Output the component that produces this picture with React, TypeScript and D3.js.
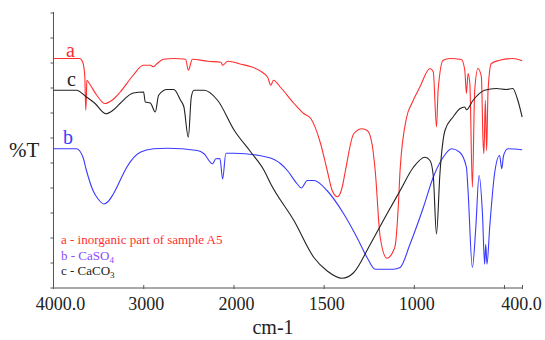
import React from "react";
import * as d3 from "d3";

const W = 545;
const H = 340;

// x tick labels (cm-1)
const xTickValues = [4000, 3000, 2000, 1500, 1000, 500, 400];
const xTickLabels = ["4000.0", "3000", "2000", "1500", "1000", "", "400.0"];
const yTickValues = [0, 10, 20, 30, 40, 50, 60, 70, 80, 90, 100, 110];

// a - inorganic part of sample A5
const aWave = [4000, 3710, 3676, 3654, 3642, 3635, 3631, 3598, 3520, 3430, 3352, 3263, 3117, 3006, 2927, 2894, 2860, 2782, 2670, 2536, 2506, 2461, 2291, 2145, 2126, 2070, 1961, 1906, 1814, 1796, 1781, 1741, 1667, 1612, 1575, 1520, 1483, 1455, 1426, 1400, 1382, 1336, 1290, 1261, 1233, 1217, 1189, 1152, 1116, 1106, 1088, 1079, 1042, 1014, 969, 913, 895, 877, 868, 840, 803, 739, 720, 711, 702, 692, 678, 665, 647, 628, 619, 614, 606, 599, 591, 573, 527, 454, 402];
const aT = [91.8, 91.8, 90.3, 85.1, 71.1, 77.1, 83.1, 81.5, 77.1, 73.8, 75.1, 78.3, 85.1, 89.1, 89.1, 88.5, 89.5, 91.5, 91.8, 91.5, 87.1, 91.5, 90.7, 90.3, 89.1, 90.7, 89.5, 88.5, 84.4, 81.1, 83.1, 80.2, 73.8, 69.7, 67.9, 57.8, 47.0, 38.9, 36.5, 40.3, 47.0, 61.7, 63.7, 63.0, 57.0, 47.0, 20.2, 11.9, 14.9, 16.9, 33.7, 47.0, 68.4, 73.8, 80.4, 87.8, 86.5, 64.4, 79.1, 91.1, 91.8, 91.4, 87.1, 77.8, 85.8, 81.8, 40.3, 79.1, 87.8, 84.4, 59.0, 53.7, 75.1, 55.0, 79.1, 89.8, 91.1, 91.8, 90.9];

// b - CaSO4
const bWave = [4000, 3746, 3673, 3635, 3561, 3508, 3441, 3397, 3337, 3226, 3188, 3039, 2891, 2741, 2406, 2332, 2238, 2201, 2156, 2126, 2090, 1998, 1814, 1741, 1704, 1649, 1627, 1593, 1557, 1483, 1391, 1318, 1262, 1217, 1116, 1079, 1024, 950, 895, 840, 793, 748, 711, 702, 678, 659, 641, 622, 610, 604, 597, 582, 555, 527, 515, 505, 481, 402];
const bT = [55.7, 55.7, 52.3, 47.0, 38.9, 35.7, 33.6, 34.5, 37.6, 45.7, 48.3, 54.3, 55.7, 55.9, 55.0, 53.7, 49.7, 51.7, 51.8, 43.6, 53.9, 53.9, 52.3, 49.7, 47.0, 41.6, 40.0, 43.0, 43.0, 38.9, 29.6, 20.2, 12.2, 7.5, 7.5, 8.2, 17.5, 32.2, 44.3, 52.3, 55.7, 54.3, 48.3, 38.9, 8.2, 24.2, 45.0, 29.6, 9.5, 17.5, 9.5, 24.2, 45.7, 53.0, 47.7, 53.0, 55.7, 55.3];

// c - CaCO3
const cWave = [4000, 3746, 3635, 3542, 3419, 3341, 3263, 3117, 3002, 2983, 2927, 2872, 2835, 2741, 2667, 2592, 2555, 2506, 2473, 2444, 2332, 2182, 1998, 1906, 1833, 1796, 1667, 1557, 1483, 1400, 1337, 1244, 1152, 1079, 1005, 941, 913, 895, 877, 858, 830, 785, 748, 720, 711, 674, 610, 545, 490, 454, 426, 402];
const cT = [79.1, 79.1, 76.4, 73.9, 69.7, 71.1, 73.8, 78.0, 78.4, 74.4, 74.0, 70.4, 77.1, 79.4, 79.4, 75.1, 72.4, 60.3, 76.4, 79.1, 79.1, 75.1, 63.0, 54.3, 47.0, 41.6, 26.9, 12.2, 6.8, 3.9, 6.1, 17.5, 29.6, 38.9, 48.3, 52.3, 51.0, 45.0, 21.6, 45.7, 63.0, 68.4, 71.7, 72.4, 71.3, 75.1, 79.1, 79.8, 79.4, 79.8, 75.1, 68.4];

const seriesNames = ["a", "b", "c"];
const seriesColors = ["#ff2f2f", "#3a3aff", "#222222"];
const legendTexts = ["a - inorganic part of sample A5", "b - CaSO", "c - CaCO"];
const legendSubs = ["", "4", "3"];
const legendColors = ["#ff2f2f", "#8a4cff", "#222222"];

const FONT = '"Liberation Serif", "Times New Roman", serif';

export default function App() {
  const x = d3.scaleLinear().domain([4000, 2000, 400]).range([53.5, 234, 522.5]);
  const y = d3.scaleLinear().domain([0, 110]).range([288, 13]);

  const line = d3
    .line<[number, number]>()
    .x((d) => x(d[0]))
    .y((d) => y(d[1]))
    .curve(d3.curveMonotoneX);

  const series = [
    aWave.map((w, i) => [w, aT[i]] as [number, number]),
    bWave.map((w, i) => [w, bT[i]] as [number, number]),
    cWave.map((w, i) => [w, cT[i]] as [number, number]),
  ];

  const axisColor = "#555";
  const x0 = x(4000);
  const x1 = x(400);
  const y0 = y(0);
  const yTop = y(110);

  const labelPos = [
    { x: 66, y: 57 },
    { x: 63, y: 144 },
    { x: 67, y: 86 },
  ];

  const labelShift = (i: number) => (i === 0 ? 7 : i === xTickValues.length - 1 ? -1 : 2.5);

  return (
    <svg width={W} height={H} style={{ position: "absolute", left: 0, top: 0, background: "#fff" }}>
      {/* axes */}
      <line x1={x0} x2={x0} y1={yTop - 1} y2={y0} stroke={axisColor} strokeWidth={1} />
      <line x1={x0} x2={x1} y1={y0} y2={y0} stroke={axisColor} strokeWidth={1} />
      {yTickValues.map((v) => (
        <line key={"yt" + v} x1={x0 - 3} x2={x0} y1={y(v)} y2={y(v)} stroke={axisColor} strokeWidth={1} />
      ))}
      {xTickValues.map((v) => (
        <line key={"xt" + v} x1={x(v)} x2={x(v)} y1={y0 - 3} y2={y0 + 1} stroke={axisColor} strokeWidth={1} />
      ))}
      {xTickValues.map((v, i) =>
        xTickLabels[i] ? (
          <text
            key={"xl" + v}
            x={x(v) + labelShift(i)}
            y={310}
            textAnchor="middle"
            fontFamily={FONT}
            fontSize={18}
            fill="#222"
          >
            {xTickLabels[i]}
          </text>
        ) : null
      )}
      <text x={273} y={334} textAnchor="middle" fontFamily={FONT} fontSize={20} fill="#222">
        cm-1
      </text>
      <text x={9} y={157} fontFamily={FONT} fontSize={21} fill="#222">
        %T
      </text>

      {/* spectra */}
      {series.map((s, i) => (
        <path key={"s" + i} d={line(s) || ""} fill="none" stroke={seriesColors[i]} strokeWidth={1.1} strokeLinejoin="round" />
      ))}

      {/* series labels */}
      {seriesNames.map((n, i) => (
        <text key={"n" + n} x={labelPos[i].x} y={labelPos[i].y} fontFamily={FONT} fontSize={20} fill={seriesColors[i]}>
          {n}
        </text>
      ))}

      {/* legend */}
      {legendTexts.map((t, i) => (
        <text key={"lg" + i} x={61} y={244 + i * 15.5} fontFamily={FONT} fontSize={13} fill={legendColors[i]}>
          {t}
          {legendSubs[i] ? (
            <tspan fontSize={9} dy={3}>
              {legendSubs[i]}
            </tspan>
          ) : null}
        </text>
      ))}
    </svg>
  );
}
